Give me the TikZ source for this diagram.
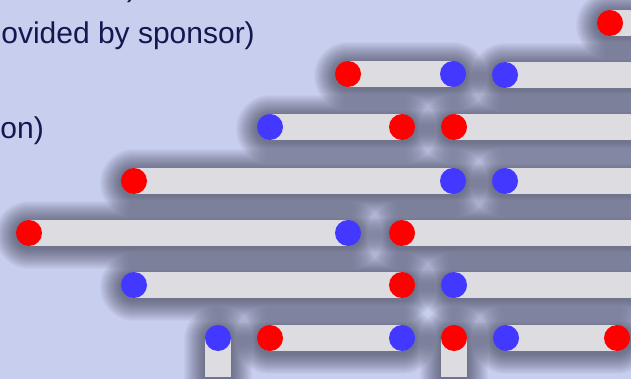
\documentclass[tikz,border=0pt]{standalone}
\usepackage{fontspec}
\setmainfont{Liberation Sans}

\definecolor{bgcol}{RGB}{200,206,238}
\definecolor{barcol}{RGB}{220,220,225}
\definecolor{shadowcol}{RGB}{35,36,55}
\definecolor{textcol}{RGB}{22,22,80}
\definecolor{dotred}{RGB}{255,0,0}
\definecolor{dotblue}{RGB}{66,56,255}

\pgfdeclarelayer{shadow}
\pgfdeclarelayer{bars}
\pgfsetlayers{shadow,bars,main}

\begin{document}
\begin{tikzpicture}[x=1pt,y=-1pt]
   \tikzset{dot/.style={circle,fill=#1,minimum size=26pt,inner sep=0pt},
            bar/.style={line width=26pt,draw=barcol},
            glow/.style={line width=#1pt,draw=shadowcol,opacity=0.03,line cap=round,transform canvas={yshift=-2pt}},
            txt/.style={anchor=base east,text=textcol,inner sep=0pt,font=\fontsize{30}{36}\selectfont}};

\useasboundingbox (0,0) rectangle (631,379);

% text on the left
\node[txt] (t0) at (137,-3) {)};
\node[txt] (t1) at (255,44) {ovided by sponsor)};
\node[txt] (t2) at (44,139) {on)};

% row 0
\node[dot=dotred] (01) at (610,23) {};
\coordinate (e0) at (650,23);
% row 1
\node[dot=dotred] (11) at (348,74) {};
\node[dot=dotblue] (12) at (453,74) {};
\node[dot=dotblue] (13) at (505,75) {};
\coordinate (e1) at (650,75);
% row 2
\node[dot=dotblue] (21) at (270,127) {};
\node[dot=dotred] (22) at (402,127) {};
\node[dot=dotred] (23) at (454,127) {};
\coordinate (e2) at (650,127);
% row 3
\node[dot=dotred] (31) at (134,181) {};
\node[dot=dotblue] (32) at (453,181) {};
\node[dot=dotblue] (33) at (505,181) {};
\coordinate (e3) at (650,181);
% row 4
\node[dot=dotred] (41) at (29,233) {};
\node[dot=dotblue] (42) at (348,233) {};
\node[dot=dotred] (43) at (402,233) {};
\coordinate (e4) at (650,233);
% row 5
\node[dot=dotblue] (51) at (134,285) {};
\node[dot=dotred] (52) at (402,285) {};
\node[dot=dotblue] (53) at (454,285) {};
\coordinate (e5) at (650,285);
% row 6
\node[dot=dotblue] (61) at (218,338) {};
\coordinate (d1) at (218,377);
\node[dot=dotred] (62) at (270,338) {};
\node[dot=dotblue] (63) at (402,338) {};
\node[dot=dotred] (64) at (454,338) {};
\coordinate (d2) at (454,377);
\node[dot=dotblue] (65) at (506,338) {};
\node[dot=dotred] (66) at (617,338) {};

\begin{pgfonlayer}{shadow}
  \fill[bgcol] (0,0) rectangle (631,379);
  \foreach \a/\b in {01/e0,11/12,13/e1,21/22,23/e2,31/32,33/e3,41/42,43/e4,51/52,53/e5,61/d1,62/63,64/d2,65/66}
    \foreach \w in {28,30,...,68}
      \draw[glow=\w] (\a.center) -- (\b.center);
\end{pgfonlayer}

\begin{pgfonlayer}{bars}
  \foreach \a/\b in {01/e0,11/12,13/e1,21/22,23/e2,31/32,33/e3,41/42,43/e4,51/52,53/e5,61/d1,62/63,64/d2,65/66}
    \draw[bar] (\a.center) -- (\b.center);
\end{pgfonlayer}

\end{tikzpicture}
\end{document}
